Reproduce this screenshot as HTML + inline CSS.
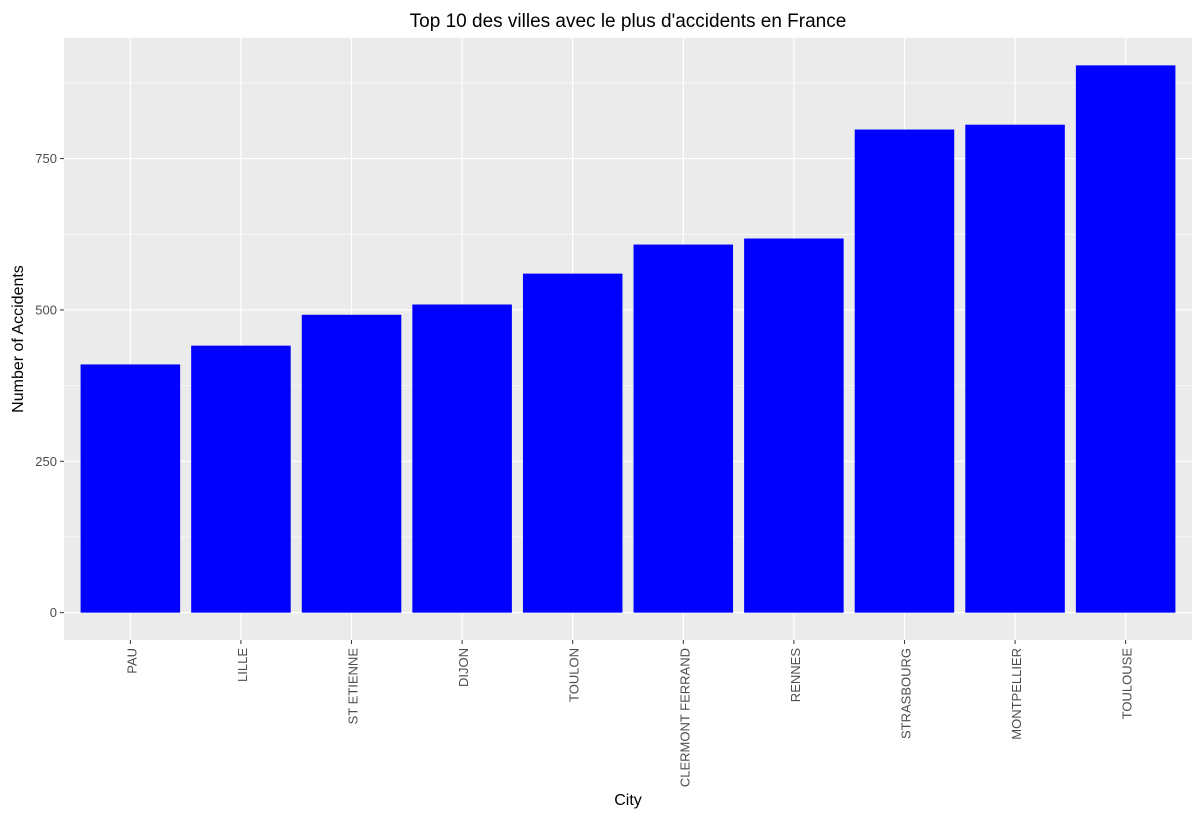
<!DOCTYPE html>
<html><head><meta charset="utf-8"><style>
body{margin:0;background:#fff;font-family:"Liberation Sans",Arial,sans-serif}
</style></head><body>
<svg id="c" width="1202" height="818" xmlns="http://www.w3.org/2000/svg">
<text x="628" y="27" font-size="19" text-anchor="middle" fill="#000">Top 10 des villes avec le plus d'accidents en France</text>
<text x="628" y="805" font-size="16" text-anchor="middle" fill="#000">City</text>
<text transform="translate(23,339) rotate(-90)" font-size="16" text-anchor="middle" fill="#000">Number of Accidents</text>
</svg>
<script>
const categories=["PAU","LILLE","ST ETIENNE","DIJON","TOULON","CLERMONT FERRAND","RENNES","STRASBOURG","MONTPELLIER","TOULOUSE"];
const values=[410,441,492,509,560,608,618,798,806,904];
const yTicks=[0,250,500,750];
const yMinor=[125,375,625,875];
const NS="http://www.w3.org/2000/svg";
const svg=document.getElementById('c');
const L=64,R=1192,T=38,B=640;
const ymax=Math.max(...values),ylo=-ymax*0.05,yhi=ymax*1.05;
const y=v=>B-(v-ylo)/(yhi-ylo)*(B-T);
const step=(R-L)/(categories.length+0.2);
const x=i=>L+step*(0.6+i);
function mk(t,a){const e=document.createElementNS(NS,t);for(const k in a)e.setAttribute(k,a[k]);svg.appendChild(e);return e;}
const bg=mk('rect',{x:L,y:T,width:R-L,height:B-T,fill:'#ebebeb'});


yMinor.forEach(v=>{const l=mk('line',{x1:L,x2:R,y1:y(v),y2:y(v),stroke:'#fff','stroke-width':0.6});

});
yTicks.forEach(v=>{const l=mk('line',{x1:L,x2:R,y1:y(v),y2:y(v),stroke:'#fff','stroke-width':1.2});


const tk=mk('line',{x1:L-4,x2:L,y1:y(v),y2:y(v),stroke:'#333','stroke-width':1});


const t=mk('text',{x:L-7,y:y(v)+4.5,'font-size':13,'text-anchor':'end',fill:'#4d4d4d'});t.textContent=v;

});
categories.forEach((c,i)=>{const g=mk('line',{x1:x(i),x2:x(i),y1:T,y2:B,stroke:'#fff','stroke-width':1.2});

});
categories.forEach((c,i)=>{const w=step*0.9;
const b=mk('rect',{x:x(i)-w/2,y:y(values[i]),width:w,height:y(0)-y(values[i]),fill:'#0000ff'});


const tk=mk('line',{x1:x(i),x2:x(i),y1:B,y2:B+4,stroke:'#333','stroke-width':1});


const t=mk('text',{transform:`translate(${x(i)+6},${B+8}) rotate(-90)`,'font-size':13,'text-anchor':'end',fill:'#4d4d4d'});t.textContent=c;

});
</script>
</body></html>
